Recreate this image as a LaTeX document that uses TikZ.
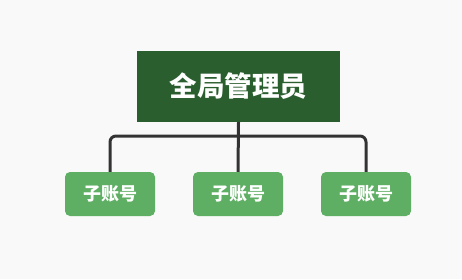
\documentclass[tikz,border=0pt]{standalone}
\usepackage{fontspec}
\setmainfont{Noto Sans CJK SC}[BoldFont={Noto Sans CJK SC Black}]
\definecolor{bgcol}{HTML}{F9F9F9}
\definecolor{rootgreen}{HTML}{2B5E2F}
\definecolor{leafgreen}{HTML}{5EAE63}
\definecolor{linkgray}{HTML}{333333}
\begin{document}
\begin{tikzpicture}[x=1pt,y=-1pt,
  rootbox/.style={fill=rootgreen, text=white, font=\bfseries\fontsize{27.5}{32}\selectfont,
    minimum width=203pt, minimum height=71pt, inner sep=0pt},
  leafbox/.style={fill=leafgreen, text=white, rounded corners=5pt, font=\bfseries\fontsize{18}{22}\selectfont,
    minimum width=90pt, minimum height=44pt, inner sep=0pt},
  link/.style={draw=linkgray, line width=3pt, rounded corners=6pt}]
  \fill[bgcol] (0,0) rectangle (462,279);
  \useasboundingbox (0,0) rectangle (462,279);
  \node[rootbox] (root) at (238.5,86.5) {全局管理员};
  \node[leafbox] (a) at (110,194) {子账号};
  \node[leafbox] (b) at (238,194) {子账号};
  \node[leafbox] (c) at (366,194) {子账号};
  \coordinate (bus) at (238,136);
  \draw[link] (root.south) -- (b.north);
  \draw[link] (a.north) |- (bus) -| (c.north);
\end{tikzpicture}
\end{document}
